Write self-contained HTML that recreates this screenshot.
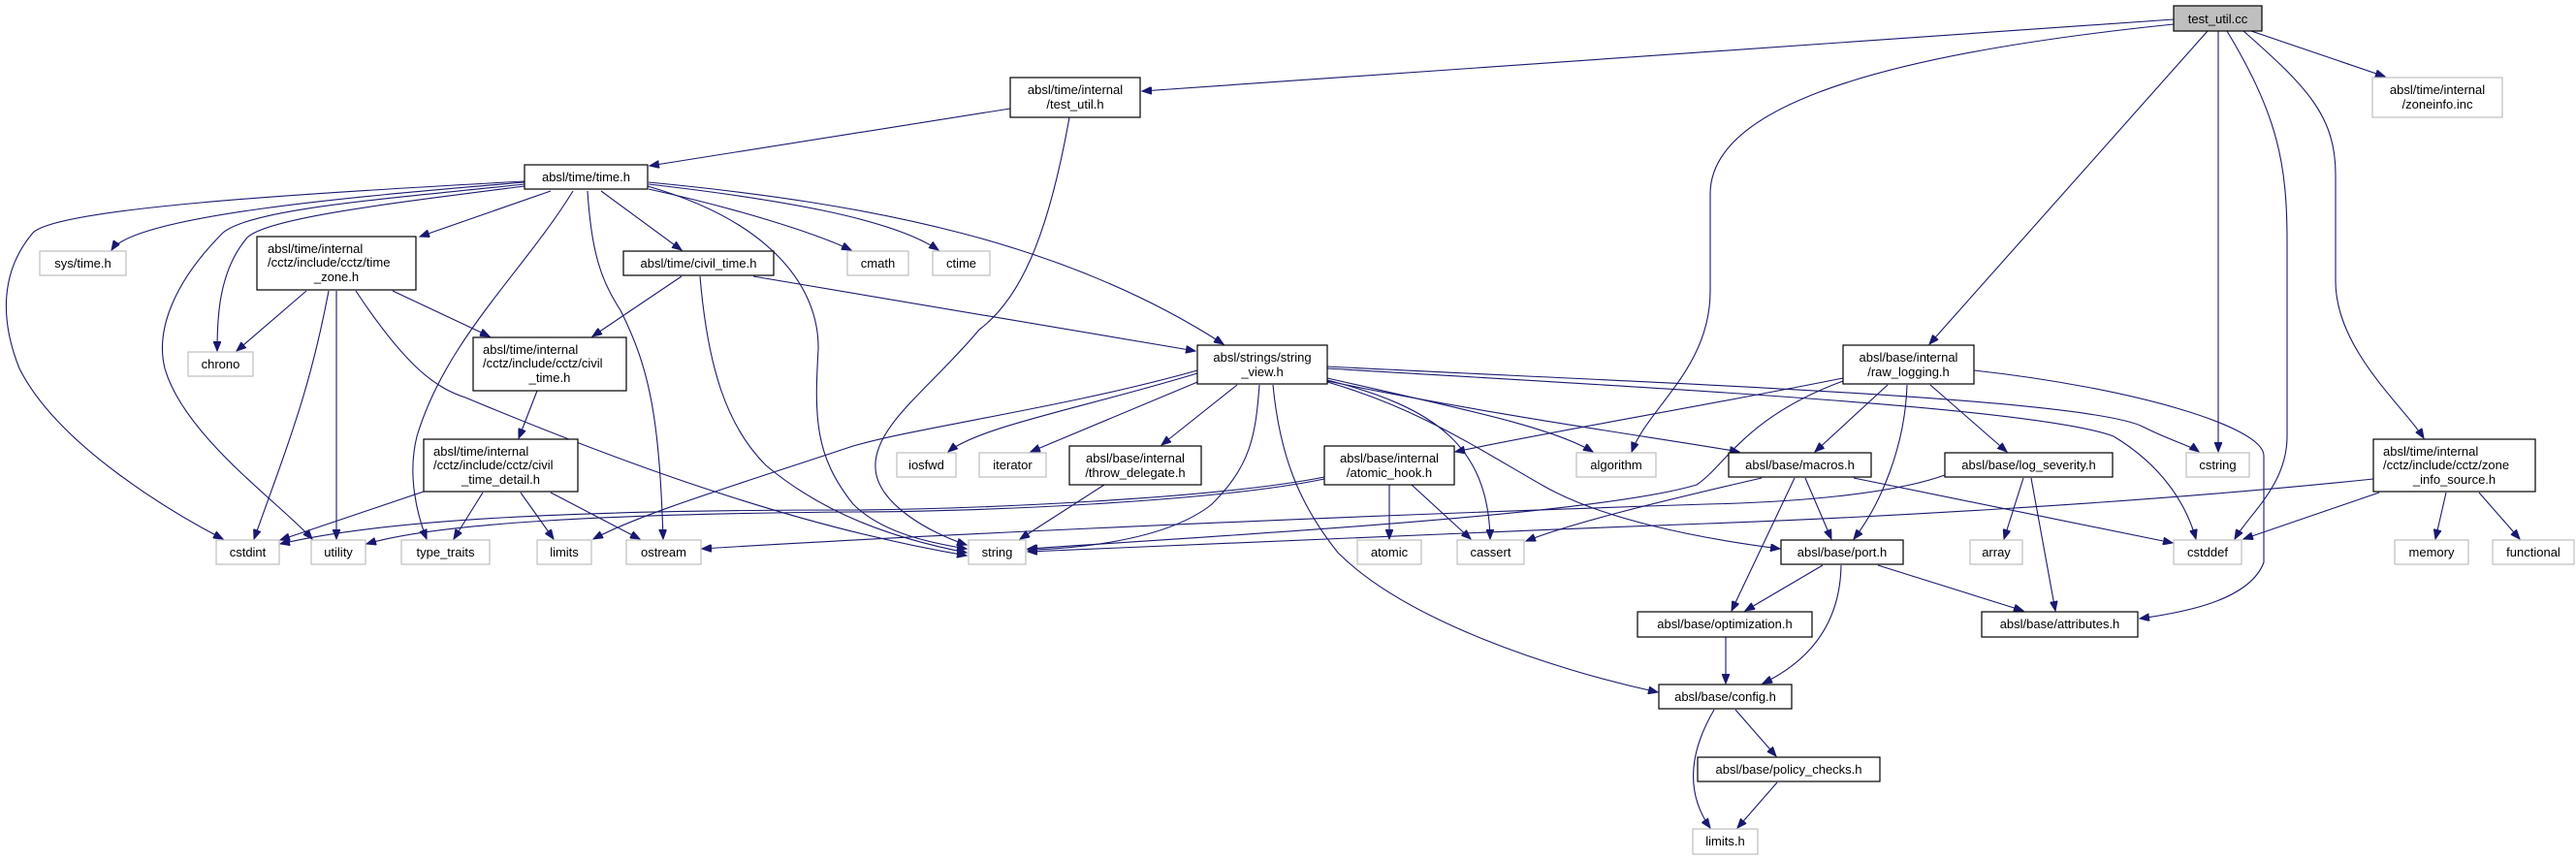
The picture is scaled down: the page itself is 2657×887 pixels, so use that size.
<!DOCTYPE html>
<html><head><meta charset="utf-8"><style>
html,body{margin:0;padding:0;background:#fff;}
svg{display:block;}
text{font-family:"Liberation Sans",sans-serif;font-size:13px;fill:#000;}
.e{fill:none;stroke:#191970;stroke-width:1.1;marker-end:url(#a);}
.b{fill:#fff;stroke:#000;stroke-width:1.2;}
.g{fill:#fff;stroke:#bfbfbf;stroke-width:1.2;}
</style></head><body>
<svg width="2657" height="887" viewBox="0 0 2657 887" xmlns="http://www.w3.org/2000/svg">
<defs><marker id="a" markerUnits="userSpaceOnUse" markerWidth="11" markerHeight="8" refX="10" refY="4" orient="auto"><path d="M0,0 L10,4 L0,8 z" fill="#191970" stroke="#191970"/></marker></defs>
<!-- edges -->
<path class="e" d="M2242,20 L1178,94"/>
<path class="e" d="M2242,25 C1900,60 1764,120 1764,200 L1764,300 C1764,380 1700,420 1683,466"/>
<path class="e" d="M2277,32 L1990,355"/>
<path class="e" d="M2288,32 L2288,466"/>
<path class="e" d="M2297,32 C2350,120 2359,170 2359,250 L2359,450 C2359,500 2320,530 2305,556"/>
<path class="e" d="M2036,382 C2200,400 2335,440 2335,470 L2335,580 C2320,620 2250,632 2207,638"/>
<path class="e" d="M2314,32 C2380,90 2409,120 2409,180 L2409,290 C2409,360 2480,420 2500,452"/>
<path class="e" d="M2322,32 L2460,79"/>
<path class="e" d="M1042,112 L670,171"/>
<path class="e" d="M1103,121 C1080,250 1050,310 1010,340 C960,400 900,440 903,483 C905,520 960,550 997,562"/>
<path class="e" d="M541,188 C400,200 140,220 115,258"/>
<path class="e" d="M541,187 C300,200 60,215 34,240 C0,280 0,330 20,380 C60,460 180,530 230,556"/>
<path class="e" d="M541,190 C400,205 260,215 230,240 C180,290 160,340 170,380 C190,450 290,520 322,556"/>
<path class="e" d="M541,192 C400,210 275,225 255,245 C225,280 224,330 224,362"/>
<path class="e" d="M568,197 L433,244"/>
<path class="e" d="M591,197 C540,280 460,350 430,450 C420,490 430,530 440,556"/>
<path class="e" d="M606,197 C610,260 620,290 640,320 C670,380 680,430 684,556"/>
<path class="e" d="M620,197 L703,258"/>
<path class="e" d="M668,192 C800,230 845,300 844,360 C840,430 840,470 880,520 C910,550 960,560 997,566"/>
<path class="e" d="M669,195 C760,215 840,240 878,258"/>
<path class="e" d="M669,190 C800,205 920,225 968,258"/>
<path class="e" d="M669,188 C900,210 1100,250 1262,355"/>
<path class="e" d="M316,300 L244,362"/>
<path class="e" d="M339,300 C320,400 300,450 262,556"/>
<path class="e" d="M347,300 L347,556"/>
<path class="e" d="M405,300 L505,347"/>
<path class="e" d="M367,300 C420,380 450,400 480,410 C600,460 800,540 997,573"/>
<path class="e" d="M703,285 L611,347"/>
<path class="e" d="M722,285 C730,380 750,440 790,480 C850,530 920,555 997,570"/>
<path class="e" d="M777,285 L1233,362"/>
<path class="e" d="M554,403 L535,452"/>
<path class="e" d="M437,507 L289,557"/>
<path class="e" d="M498,508 L468,556"/>
<path class="e" d="M537,508 L571,556"/>
<path class="e" d="M568,508 L660,556"/>
<path class="e" d="M1235,385 C1120,420 1010,440 978,466"/>
<path class="e" d="M1240,392 L1063,466"/>
<path class="e" d="M1276,397 L1198,459"/>
<path class="e" d="M1299,397 C1295,450 1290,480 1250,520 C1200,560 1100,566 1060,567"/>
<path class="e" d="M1313,397 C1320,470 1340,520 1380,570 C1450,640 1600,690 1710,714"/>
<path class="e" d="M1235,382 C1100,420 950,440 880,460 C760,500 660,530 612,556"/>
<path class="e" d="M1369,390 C1500,420 1600,440 1643,466"/>
<path class="e" d="M1369,392 C1480,420 1535,460 1537,556"/>
<path class="e" d="M1369,380 C1700,400 2100,420 2180,450 C2230,480 2255,520 2265,556"/>
<path class="e" d="M1369,378 C1700,395 2150,410 2210,440 C2240,455 2260,460 2268,466"/>
<path class="e" d="M1369,393 C1550,430 1700,450 1794,466"/>
<path class="e" d="M1369,394 C1460,420 1520,460 1590,500 C1650,535 1750,555 1836,566"/>
<path class="e" d="M1139,500 L1052,556"/>
<path class="e" d="M1433,500 L1433,556"/>
<path class="e" d="M1456,500 L1517,556"/>
<path class="e" d="M1366,492 C1250,515 1000,525 880,526 C600,526 400,535 289,561"/>
<path class="e" d="M1366,494 C1250,518 1000,528 880,528 C620,530 450,540 378,561"/>
<path class="e" d="M1901,390 C1750,420 1600,445 1501,466"/>
<path class="e" d="M1901,393 C1800,430 1780,480 1750,500 C1650,530 1300,550 1060,566"/>
<path class="e" d="M2448,494 C2200,520 1900,535 1760,540 C1500,550 1200,562 1060,569"/>
<path class="e" d="M2006,490 C1950,510 1850,518 1760,520 C1300,535 900,555 724,566"/>
<path class="e" d="M1947,397 L1872,466"/>
<path class="e" d="M1967,397 C1965,460 1940,520 1912,556"/>
<path class="e" d="M1991,397 L2070,466"/>
<path class="e" d="M1817,493 C1700,520 1620,540 1574,558"/>
<path class="e" d="M1912,493 L2241,560"/>
<path class="e" d="M1862,493 L1889,556"/>
<path class="e" d="M1851,493 L1786,630"/>
<path class="e" d="M2087,493 L2067,556"/>
<path class="e" d="M2095,493 L2120,630"/>
<path class="e" d="M2454,508 L2314,556"/>
<path class="e" d="M2523,508 L2512,556"/>
<path class="e" d="M2557,508 L2599,556"/>
<path class="e" d="M1880,583 L1800,630"/>
<path class="e" d="M1899,583 C1898,640 1870,680 1818,705"/>
<path class="e" d="M1937,583 L2087,630"/>
<path class="e" d="M1780,657 L1780,705"/>
<path class="e" d="M1790,732 L1832,780"/>
<path class="e" d="M1768,732 C1740,780 1740,820 1764,854"/>
<path class="e" d="M1833,807 L1792,854"/>
<!-- nodes -->
<rect x="2242" y="6" width="91" height="26" fill="#bfbfbf" stroke="#000" stroke-width="1.2"/><text x="2287.5" y="24" text-anchor="middle">test_util.cc</text>
<rect class="b" x="1042" y="80" width="134" height="41"/><text x="1109" y="97" text-anchor="middle">absl/time/internal</text><text x="1109" y="112" text-anchor="middle">/test_util.h</text>
<rect class="g" x="2447" y="80" width="134" height="41"/><text x="2514" y="97" text-anchor="middle">absl/time/internal</text><text x="2514" y="112" text-anchor="middle">/zoneinfo.inc</text>
<rect class="b" x="541" y="170" width="127" height="25"/><text x="604.5" y="187" text-anchor="middle">absl/time/time.h</text>
<rect class="g" x="41" y="259" width="89" height="25"/><text x="85.5" y="276" text-anchor="middle">sys/time.h</text>
<rect class="b" x="265" y="244" width="164" height="55"/><text x="276" y="261">absl/time/internal</text><text x="276" y="275">/cctz/include/cctz/time</text><text x="347" y="290" text-anchor="middle">_zone.h</text>
<rect class="b" x="643" y="259" width="155" height="25"/><text x="720.5" y="276" text-anchor="middle">absl/time/civil_time.h</text>
<rect class="g" x="874" y="259" width="63" height="25"/><text x="905.5" y="276" text-anchor="middle">cmath</text>
<rect class="g" x="962" y="259" width="59" height="25"/><text x="991.5" y="276" text-anchor="middle">ctime</text>
<rect class="g" x="194" y="363" width="67" height="25"/><text x="227.5" y="380" text-anchor="middle">chrono</text>
<rect class="b" x="488" y="348" width="158" height="55"/><text x="498" y="365">absl/time/internal</text><text x="498" y="379">/cctz/include/cctz/civil</text><text x="567" y="394" text-anchor="middle">_time.h</text>
<rect class="b" x="1235" y="356" width="134" height="40"/><text x="1302" y="373" text-anchor="middle">absl/strings/string</text><text x="1302" y="388" text-anchor="middle">_view.h</text>
<rect class="b" x="1901" y="356" width="135" height="40"/><text x="1968.5" y="373" text-anchor="middle">absl/base/internal</text><text x="1968.5" y="388" text-anchor="middle">/raw_logging.h</text>
<rect class="b" x="437" y="453" width="159" height="54"/><text x="447" y="470">absl/time/internal</text><text x="447" y="484">/cctz/include/cctz/civil</text><text x="516.5" y="499" text-anchor="middle">_time_detail.h</text>
<rect class="b" x="2448" y="453" width="167" height="54"/><text x="2458" y="470">absl/time/internal</text><text x="2458" y="484">/cctz/include/cctz/zone</text><text x="2531.5" y="499" text-anchor="middle">_info_source.h</text>
<rect class="g" x="925" y="467" width="61" height="25"/><text x="955.5" y="484" text-anchor="middle">iosfwd</text>
<rect class="g" x="1010" y="467" width="69" height="25"/><text x="1044.5" y="484" text-anchor="middle">iterator</text>
<rect class="b" x="1103" y="460" width="136" height="40"/><text x="1171" y="477" text-anchor="middle">absl/base/internal</text><text x="1171" y="492" text-anchor="middle">/throw_delegate.h</text>
<rect class="b" x="1366" y="460" width="134" height="40"/><text x="1433" y="477" text-anchor="middle">absl/base/internal</text><text x="1433" y="492" text-anchor="middle">/atomic_hook.h</text>
<rect class="g" x="1626" y="467" width="82" height="25"/><text x="1667" y="484" text-anchor="middle">algorithm</text>
<rect class="b" x="1783" y="467" width="147" height="25"/><text x="1856.5" y="484" text-anchor="middle">absl/base/macros.h</text>
<rect class="b" x="2006" y="467" width="173" height="25"/><text x="2092.5" y="484" text-anchor="middle">absl/base/log_severity.h</text>
<rect class="g" x="2255" y="467" width="65" height="25"/><text x="2287.5" y="484" text-anchor="middle">cstring</text>
<rect class="g" x="223" y="557" width="65" height="25"/><text x="255.5" y="574" text-anchor="middle">cstdint</text>
<rect class="g" x="321" y="557" width="56" height="25"/><text x="349" y="574" text-anchor="middle">utility</text>
<rect class="g" x="414" y="557" width="91" height="25"/><text x="459.5" y="574" text-anchor="middle">type_traits</text>
<rect class="g" x="554" y="557" width="56" height="25"/><text x="582" y="574" text-anchor="middle">limits</text>
<rect class="g" x="646" y="557" width="77" height="25"/><text x="684.5" y="574" text-anchor="middle">ostream</text>
<rect class="g" x="999" y="557" width="59" height="25"/><text x="1028.5" y="574" text-anchor="middle">string</text>
<rect class="g" x="1400" y="557" width="66" height="25"/><text x="1433" y="574" text-anchor="middle">atomic</text>
<rect class="g" x="1503" y="557" width="69" height="25"/><text x="1537.5" y="574" text-anchor="middle">cassert</text>
<rect class="b" x="1837" y="557" width="126" height="25"/><text x="1900" y="574" text-anchor="middle">absl/base/port.h</text>
<rect class="g" x="2032" y="557" width="54" height="25"/><text x="2059" y="574" text-anchor="middle">array</text>
<rect class="g" x="2242" y="557" width="70" height="25"/><text x="2277" y="574" text-anchor="middle">cstddef</text>
<rect class="g" x="2470" y="557" width="76" height="25"/><text x="2508" y="574" text-anchor="middle">memory</text>
<rect class="g" x="2571" y="557" width="84" height="25"/><text x="2613" y="574" text-anchor="middle">functional</text>
<rect class="b" x="1689" y="631" width="180" height="26"/><text x="1779" y="648" text-anchor="middle">absl/base/optimization.h</text>
<rect class="b" x="2044" y="631" width="161" height="26"/><text x="2124.5" y="648" text-anchor="middle">absl/base/attributes.h</text>
<rect class="b" x="1711" y="706" width="137" height="25"/><text x="1779.5" y="723" text-anchor="middle">absl/base/config.h</text>
<rect class="b" x="1751" y="781" width="188" height="25"/><text x="1845" y="798" text-anchor="middle">absl/base/policy_checks.h</text>
<rect class="g" x="1746" y="855" width="67" height="26"/><text x="1779.5" y="872" text-anchor="middle">limits.h</text>
</svg>
</body></html>
